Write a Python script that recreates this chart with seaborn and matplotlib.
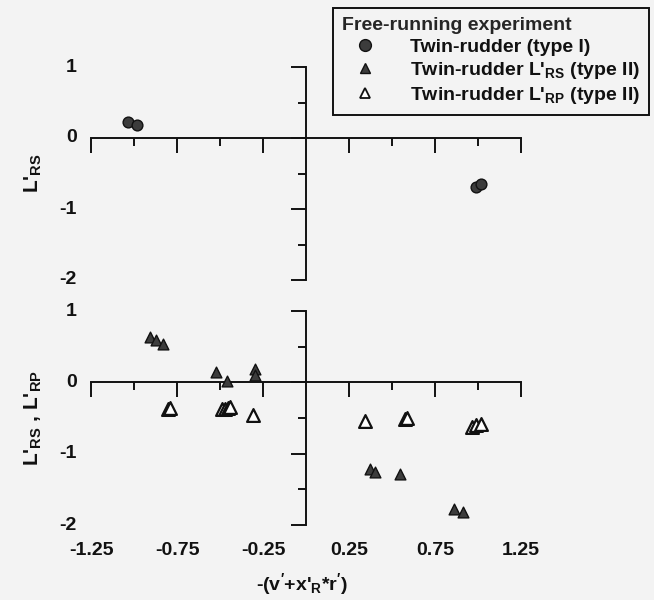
import matplotlib
matplotlib.use("Agg")
import matplotlib.pyplot as plt
import matplotlib.transforms as mtransforms
from matplotlib.lines import Line2D
import pandas as pd
import seaborn as sns

# Twin-rudder, type I (upper panel)
type1_x = [-1.035, -0.98, 0.99, 1.02]
type1_y = [0.22, 0.19, -0.69, -0.645]

# Twin-rudder, type II: starboard rudder L'RS
rs_x = [-0.907, -0.87, -0.83, -0.525, -0.457, -0.296, -0.296, 0.372, 0.40, 0.547, 0.862, 0.91]
rs_y = [0.64, 0.60, 0.54, 0.15, 0.02, 0.19, 0.10, -1.21, -1.26, -1.28, -1.78, -1.82]

# Twin-rudder, type II: port rudder L'RP
rp_x = [-0.80, -0.79, -0.49, -0.47, -0.455, -0.44, -0.306, 0.343, 0.575, 0.585, 0.963, 0.99, 1.02]
rp_y = [-0.38, -0.36, -0.37, -0.37, -0.36, -0.35, -0.46, -0.54, -0.52, -0.50, -0.62, -0.60, -0.58]

x_major = [-1.25, -0.75, -0.25, 0.25, 0.75, 1.25]
x_minor = [-1.0, -0.5, 0.5, 1.0]
x_ticklabels = ["-1.25", "-0.75", "-0.25", "0.25", "0.75", "1.25"]
y_major = [1, 0, -1, -2]
y_minor = [0.5, -0.5, -1.5]
y_ticklabels = ["1", "0", "-1", "-2"]

legend_title = "Free-running experiment"
labels = ["Twin-rudder (type I)",
          r"Twin-rudder L'$_{\mathregular{RS}}$ (type II)",
          r"Twin-rudder L'$_{\mathregular{RP}}$ (type II)"]

sns.set_theme(style="ticks")
plt.rcParams["font.family"] = ["Liberation Sans", "DejaVu Sans"]
plt.rcParams["font.weight"] = "bold"
plt.rcParams["mathtext.fontset"] = "custom"
plt.rcParams["mathtext.rm"] = "Liberation Sans:bold"
plt.rcParams["mathtext.it"] = "Liberation Sans:bold"
plt.rcParams["mathtext.bf"] = "Liberation Sans:bold"
plt.rcParams["mathtext.default"] = "regular"

BG = "#f3f3f3"
INK = "#111111"
FILL = "#3c3c3c"

fig = plt.figure(figsize=(6.54, 6.0), dpi=100, facecolor=BG)
W, H = 654, 600
ax_top = fig.add_axes([91 / W, 1 - 280 / H, 430 / W, 213 / H])
ax_bot = fig.add_axes([91 / W, 1 - 525 / H, 430 / W, 214 / H])

df1 = pd.DataFrame({"x": type1_x, "y": type1_y})
df_rs = pd.DataFrame({"x": rs_x, "y": rs_y})
df_rp = pd.DataFrame({"x": rp_x, "y": rp_y})

sns.scatterplot(data=df1, x="x", y="y", ax=ax_top, marker="o", s=60,
                color=FILL, edgecolor=INK, linewidth=1.0, zorder=3, clip_on=False)
sns.scatterplot(data=df_rp, x="x", y="y", ax=ax_bot, marker="^", s=85,
                facecolor="white", edgecolor=INK, linewidth=1.6, zorder=3, clip_on=False)
sns.scatterplot(data=df_rs, x="x", y="y", ax=ax_bot, marker="^", s=60,
                color=FILL, edgecolor=INK, linewidth=1.0, zorder=4, clip_on=False)


def style_axes(ax, xlabels):
    ax.set_xlim(-1.25, 1.25)
    ax.set_ylim(-2, 1)
    ax.set_facecolor("none")
    for s in ("top", "right"):
        ax.spines[s].set_visible(False)
    for s in ("left", "bottom"):
        ax.spines[s].set_position(("data", 0))
        ax.spines[s].set_linewidth(1.4)
        ax.spines[s].set_color(INK)
    ax.set_xticks(x_major)
    ax.set_xticks(x_minor, minor=True)
    ax.set_yticks(y_major)
    ax.set_yticks(y_minor, minor=True)
    ax.tick_params(which="major", direction="out", length=11, width=1.4, color=INK,
                   bottom=True, left=True, labelbottom=False, labelleft=False)
    ax.tick_params(which="minor", direction="out", length=6, width=1.4, color=INK,
                   bottom=True, left=True)
    ax.set_xlabel("")
    ax.set_ylabel("")
    ytr = mtransforms.blended_transform_factory(ax.transAxes, ax.transData)
    for v, t in zip(y_major, y_ticklabels):
        ax.text(-0.033, v, t, transform=ytr, ha="right", va="center",
                fontsize=14, fontweight="bold", color=INK)
    if xlabels:
        xtr = mtransforms.blended_transform_factory(ax.transData, ax.transAxes)
        for v, t in zip(x_major, x_ticklabels):
            ax.text(v, -0.117, t, transform=xtr, ha="center", va="center",
                    fontsize=14, fontweight="bold", color=INK)


style_axes(ax_top, False)
style_axes(ax_bot, True)

ax_top.set_ylabel(r"L$'_{\mathregular{RS}}$", fontsize=15, fontweight="bold", color=INK)
ax_top.yaxis.set_label_coords(-0.11, 0.5)
ax_bot.set_ylabel(r"L$'_{\mathregular{RS}}$ , L$'_{\mathregular{RP}}$", fontsize=15,
                  fontweight="bold", color=INK)
ax_bot.yaxis.set_label_coords(-0.11, 0.5)
ax_bot.set_xlabel(r"-(v$'$+x$'_{\mathregular{R}}$*r$'$)", fontsize=14,
                  fontweight="bold", color=INK)
ax_bot.xaxis.set_label_coords(0.49, -0.215)

handles = [
    Line2D([], [], linestyle="none", marker="o", markersize=8.5, markerfacecolor=FILL,
           markeredgecolor=INK, markeredgewidth=1.0),
    Line2D([], [], linestyle="none", marker="^", markersize=7.5, markerfacecolor=FILL,
           markeredgecolor=INK, markeredgewidth=1.0),
    Line2D([], [], linestyle="none", marker="^", markersize=7.5, markerfacecolor="white",
           markeredgecolor=INK, markeredgewidth=1.3),
]
leg = fig.legend(handles, labels, title=legend_title, loc="upper right",
                 bbox_to_anchor=(649 / W, 1 - 8 / H), borderaxespad=0,
                 fancybox=False, frameon=True, framealpha=1, edgecolor=INK,
                 facecolor=BG, fontsize=14, alignment="left",
                 title_fontproperties={"weight": "bold", "size": 14},
                 handlelength=2.3, handletextpad=1.2, labelspacing=0.22,
                 borderpad=0.45)
leg.get_frame().set_linewidth(1.4)
for t in leg.get_texts():
    t.set_fontweight("bold")
    t.set_color(INK)

fig.savefig("out.png", dpi=100, facecolor=BG)
